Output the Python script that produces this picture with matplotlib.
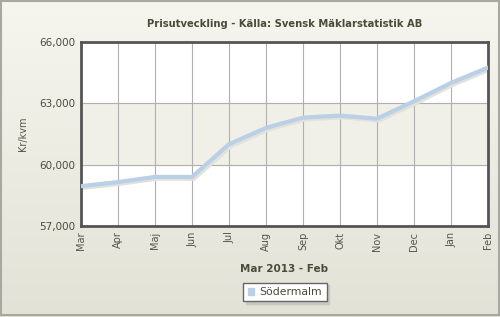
import matplotlib
matplotlib.use("Agg")
import matplotlib.pyplot as plt
import numpy as np
from matplotlib.patches import Rectangle

# data
months = ["Mar", "Apr", "Maj", "Jun", "Jul", "Aug", "Sep", "Okt", "Nov", "Dec", "Jan", "Feb"]
prices = [58950, 59150, 59400, 59400, 61000, 61800, 62300, 62400, 62250, 63100, 64000, 64750]
yticks = [57000, 60000, 63000, 66000]
ytick_labels = ["57,000", "60,000", "63,000", "66,000"]

text_col = "#4b4b3c"
line_col = "#bad0e6"

fig = plt.figure(figsize=(5, 3.17), dpi=100)

# background gradient, light at top, darker at bottom
bg = fig.add_axes([0, 0, 1, 1], zorder=-10)
grad = np.linspace(0, 1, 256).reshape(-1, 1)
bg.imshow(grad, aspect="auto", extent=[0, 1, 1, 0], origin="upper",
          cmap=matplotlib.colors.LinearSegmentedColormap.from_list("bg", ["#f6f6ef", "#e2e2d7"]))
bg.add_patch(Rectangle((0.002, 0.003), 0.995, 0.992, fill=False, edgecolor="#a8a8a0", lw=1.5))
bg.set_xlim(0, 1)
bg.set_ylim(1, 0)
bg.axis("off")

ax = fig.add_axes([81 / 500, 1 - 226 / 317, (488 - 81) / 500, (226 - 42) / 317])
ax.set_facecolor("white")
ax.axhspan(60000, 63000, color="#f0f0e8", zorder=0)

x = np.arange(len(months))
# soft shadow then line
ax.plot(x + 0.05, np.array(prices) - 70, color="#e2e2dc", lw=3.5, solid_capstyle="round", zorder=2)
ax.plot(x, prices, color=line_col, lw=3, solid_capstyle="round", zorder=3)

ax.set_xlim(0, len(months) - 1)
ax.set_ylim(57000, 66000)
ax.set_xticks(x)
ax.set_xticklabels(months, rotation=90, fontsize=7, color="#55554a")
ax.set_yticks(yticks)
ax.set_yticklabels(ytick_labels, fontsize=7.5, color=text_col)
ax.tick_params(length=0, pad=4)
ax.grid(True, color="#b0b0b0", lw=0.8)
ax.set_axisbelow(True)
for s in ax.spines.values():
    s.set_color("#555555")
    s.set_linewidth(2)

ax.set_ylabel("Kr/kvm", fontsize=7, color="#55554a", labelpad=8)
ax.set_xlabel("Mar 2013 - Feb", fontsize=7.5, color=text_col, fontweight="bold", labelpad=10)
ax.set_title("Prisutveckling - Källa: Svensk Mäklarstatistik AB", fontsize=7.2,
             color=text_col, fontweight="bold", pad=11, x=0.5)

leg = fig.legend(handles=[Rectangle((0, 0), 1, 1, color=line_col)], labels=["Södermalm"],
                 loc="center", bbox_to_anchor=(285 / 500, 1 - 292 / 317), fontsize=7.8,
                 handlelength=0.6, handleheight=0.6, handletextpad=0.5, borderpad=0.4,
                 frameon=True, fancybox=False, shadow={"color": "#c8c8c0", "alpha": 1},
                 labelcolor=text_col)
leg.get_frame().set_edgecolor("#666666")
leg.get_frame().set_linewidth(1)

fig.savefig("out.png", dpi=100)
